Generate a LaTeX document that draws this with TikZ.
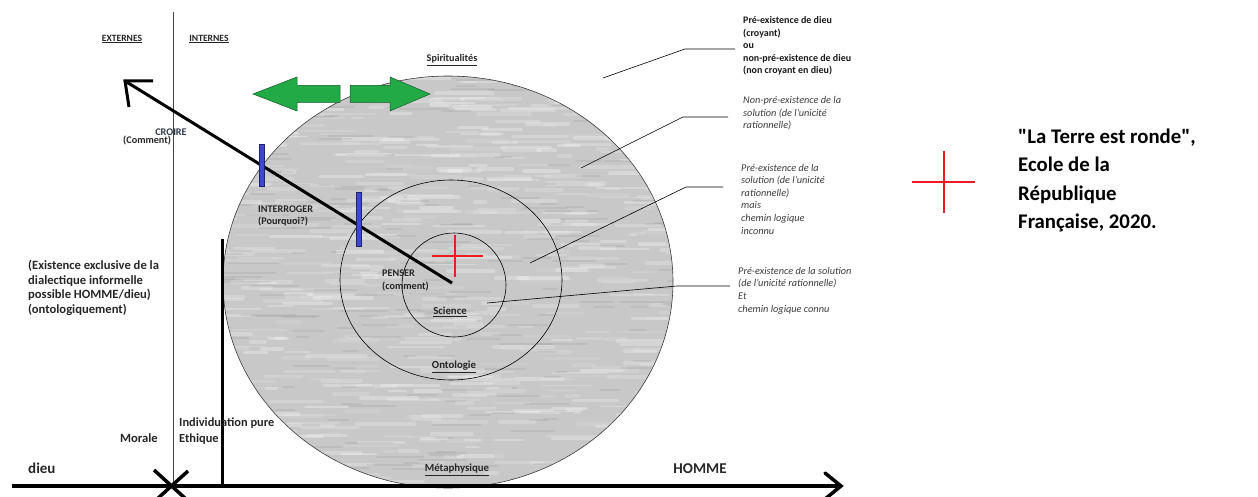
\documentclass[tikz,border=0pt]{standalone}
\usepackage{fontspec}
\setmainfont{Carlito}
\newfontfamily\nomapfont{Carlito}
\newcommand{\sq}{{\nomapfont\bfseries\symbol{34}}}
\definecolor{txt}{RGB}{38,38,38}
\definecolor{disc}{RGB}{200,200,200}
\definecolor{grn}{RGB}{34,170,70}
\definecolor{grnd}{RGB}{20,90,40}
\definecolor{blu}{RGB}{63,72,204}
\definecolor{blud}{RGB}{30,35,110}
\definecolor{rd}{RGB}{237,28,36}
\tikzset{
  lbl/.style={inner sep=0pt, text=txt, font=\bfseries\fontsize{10.2}{12}\selectfont},
  ulbl/.style={inner sep=0pt, text=txt, font=\bfseries\fontsize{10.8}{12}\selectfont},
  side/.style={inner sep=0pt, text=txt, align=left, anchor=west, font=\fontsize{10}{12.5}\selectfont},
  sideit/.style={side, text={rgb,255:red,60;green,60;blue,60}, font=\itshape\fontsize{10.3}{12.6}\selectfont},
  mid/.style={inner sep=0pt, text=txt, align=left, font=\bfseries\fontsize{12.6}{14.6}\selectfont},
  big/.style={inner sep=0pt, text=black, align=left, anchor=west, font=\bfseries\fontsize{20.8}{28.5}\selectfont},
  axislbl/.style={inner sep=0pt, text=txt, font=\bfseries\fontsize{15}{16}\selectfont},
  leader/.style={draw=black, line width=0.6pt},
  ring/.style={draw=black, line width=0.6pt},
  thickln/.style={draw=black, line width=3pt},
  bar/.style={fill=blu, draw=blud, line width=0.4pt},
  garrow/.style={fill=grn, draw=grnd, line width=0.5pt},
  redx/.style={draw=rd, line width=2.6pt},
}
\begin{document}
\begin{tikzpicture}[x=1pt,y=-1pt]
\useasboundingbox (0,0) rectangle (1258,497);
% big disc with texture
\fill[disc] (448,282) ellipse [x radius=225pt, y radius=206pt];
\begin{scope}
\clip (448,282) ellipse [x radius=225pt, y radius=206pt];
\pgfmathsetseed{7}
\foreach \i in {1,...,600}{
  \pgfmathsetmacro\xx{205+470*rnd}
  \pgfmathsetmacro\yy{74+420*rnd}
  \pgfmathsetmacro\ll{10+50*rnd}
  \pgfmathsetmacro\ww{1.5+3*rnd}
  \pgfmathsetmacro\oo{0.08+0.22*rnd}
  \draw[white, opacity=\oo, line width=\ww pt, line cap=round] (\xx,\yy) -- ++(\ll,0);
}
\foreach \i in {1,...,220}{
  \pgfmathsetmacro\xx{205+470*rnd}
  \pgfmathsetmacro\yy{74+420*rnd}
  \pgfmathsetmacro\ll{10+45*rnd}
  \draw[black, opacity=0.05, line width=2pt, line cap=round] (\xx,\yy) -- ++(\ll,0);
}
\end{scope}
\draw[ring, draw={rgb,255:red,60;green,60;blue,60}] (448,282) ellipse [x radius=225pt, y radius=206pt];
\draw[ring] (451,280) ellipse [x radius=111pt, y radius=100pt];
\draw[ring] (454,285) ellipse [x radius=52pt, y radius=52pt];

% vertical separators
\coordinate (vtop) at (173,12);
\coordinate (vbot) at (173,486);
\draw[line width=0.7pt, draw={rgb,255:red,70;green,70;blue,70}] (vtop) -- (vbot);
\coordinate (ttop) at (222,239);
\coordinate (tbot) at (222,486);
\draw[thickln] (ttop) -- (tbot);

% horizontal axis
\coordinate (axl) at (12,486);
\coordinate (axr) at (841,486);
\coordinate (ahu) at (825,473);
\coordinate (ahd) at (825,499);
\draw[line width=4pt] (axl) -- (axr);
\draw[line width=3.5pt, line cap=round, line join=miter] (ahu) -- (axr) -- (ahd);

% X mark
\coordinate (x1) at (154,470);
\coordinate (x2) at (187,500);
\coordinate (x3) at (188,471);
\coordinate (x4) at (156,500);
\draw[line width=3.5pt] (x1) -- (x2);
\draw[line width=3.5pt] (x3) -- (x4);

% black arrow
\coordinate (ctr) at (452,283);
\coordinate (tip) at (125,81);
\coordinate (h1) at (153,81);
\coordinate (h2) at (129,107);
\draw[thickln] (ctr) -- (tip);
\draw[thickln, line join=miter] (h1) -- (tip) -- (h2);

% blue bars
\draw[bar] (259.5,144) rectangle (264.5,186);
\draw[bar] (356.5,192) rectangle (361.5,246);

% green arrows
\draw[garrow] (253,94) -- (297,77) -- (297,85.5) -- (340,85.5) -- (340,102.5) -- (297,102.5) -- (297,111) -- cycle;
\draw[garrow] (430,94) -- (390,77) -- (390,85.5) -- (350,85.5) -- (350,102.5) -- (390,102.5) -- (390,111) -- cycle;

% red crosses
\coordinate (r1a) at (432,256); \coordinate (r1b) at (483,256);
\coordinate (r1c) at (455,235); \coordinate (r1d) at (455,277);
\draw[redx] (r1a) -- (r1b); \draw[redx] (r1c) -- (r1d);
\coordinate (r2a) at (912,182); \coordinate (r2b) at (975,182);
\coordinate (r2c) at (944,151); \coordinate (r2d) at (944,213);
\draw[redx] (r2a) -- (r2b); \draw[redx] (r2c) -- (r2d);

% leader lines
\coordinate (l1a) at (603,78); \coordinate (l1b) at (685,49); \coordinate (l1c) at (735,49);
\coordinate (l2a) at (581,168); \coordinate (l2b) at (683,117); \coordinate (l2c) at (728,117);
\coordinate (l3a) at (530,263); \coordinate (l3b) at (686,187); \coordinate (l3c) at (723,187);
\coordinate (l4a) at (487,303); \coordinate (l4b) at (677,286); \coordinate (l4c) at (730,286);
\draw[leader] (l1a) -- (l1b) -- (l1c);
\draw[leader] (l2a) -- (l2b) -- (l2c);
\draw[leader] (l3a) -- (l3b) -- (l3c);
\draw[leader] (l4a) -- (l4b) -- (l4c);

% labels
\node[lbl, font=\bfseries\fontsize{9.6}{12}\selectfont] (ext) at (122,39) {\underline{EXTERNES}};
\node[lbl, font=\bfseries\fontsize{9.6}{12}\selectfont] (int) at (209,39) {\underline{INTERNES}};
\node[lbl] (spi) at (452,60) {\underline{Spiritualités}};
\node[lbl, text={rgb,255:red,45;green,55;blue,75}] (croire) at (171,132) {CROIRE};
\node[lbl, anchor=west] (comm) at (123,140) {(Comment)};
\node[lbl, align=left, anchor=west, font=\bfseries\fontsize{10.2}{12.5}\selectfont] (interr) at (258,216) {INTERROGER\\(Pourquoi?)};
\node[lbl, align=left, anchor=west, font=\bfseries\fontsize{10.2}{13}\selectfont] (penser) at (382,280.5) {PENSER\\(comment)};
\node[ulbl] (sci) at (450,312) {\underline{Science}};
\node[ulbl] (onto) at (454,367) {\underline{Ontologie}};
\node[ulbl] (meta) at (457,470) {\underline{Métaphysique}};

\node[mid, anchor=west] (exist) at (28,288) {(Existence exclusive de la\\dialectique informelle\\possible HOMME/dieu)\\(ontologiquement)};
\node[mid, anchor=east] (morale) at (158,438) {Morale};
\node[mid, anchor=west, align=left, font=\bfseries\fontsize{12.4}{16}\selectfont] (indiv) at (179,431) {Individuation pure\\Ethique};
\node[axislbl, anchor=west] (dieu) at (28,468) {dieu};
\node[axislbl] (homme) at (700,469) {HOMME};

\node[side, font=\bfseries\fontsize{10}{12.5}\selectfont, text={rgb,255:red,25;green,25;blue,25}] (t1) at (743,46) {Pré-existence de dieu\\(croyant)\\ou\\non-pré-existence de dieu\\(non croyant en dieu)};
\node[sideit] (t2) at (743,113.5) {Non-pré-existence de la\\solution (de l'unicité\\rationnelle)};
\node[sideit] (t3) at (741,199) {Pré-existence de la\\solution (de l'unicité\\rationnelle)\\mais\\chemin logique\\inconnu};
\node[sideit] (t4) at (738,290.5) {Pré-existence de la solution\\(de l'unicité rationnelle)\\Et\\chemin logique connu};

\node[big] (terre) at (1018,180.5) {\sq La Terre est ronde\sq,\\Ecole de la\\République\\Française, 2020.};
\end{tikzpicture}
\end{document}
